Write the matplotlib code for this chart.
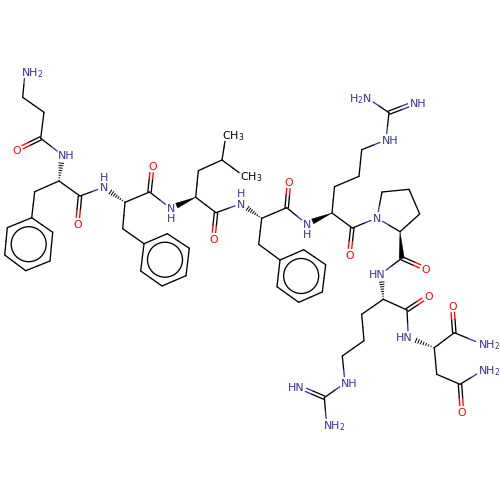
import numpy as np
import matplotlib
matplotlib.use("Agg")
import matplotlib.pyplot as plt
from matplotlib.patches import Polygon, Circle

BLUE = "#333399"
RED = "#FF0000"
BLACK = "#000000"

# atom id, x, y (pixel space)
atom_ids = ["n1","c1","c2","c3","o3","n2","a2","b2","r1a","r1b","r1c","r1d","r1e","r1f",
            "c4","o4","n3","a3","b3","r2a","r2b","r2c","r2d","r2e","r2f",
            "c5","o5","n4","a4","b4","g4","m1","m2","c6","o6","n5","a5","b5",
            "r3a","r3b","r3c","r3d","r3e","r3f","c7","o7","n6","a6","b6","d6","e6",
            "n7","g7","n8","n9","c8","o8","n10","p1","p2","p3","p4","c9","o9",
            "n11","a11","c10","o10","b11","d11","e11","n12","g12","n13","n14",
            "n15","a15","c16","o16","n16","b15","c17","o17","n17"]
atom_x = [25,22.7,44,40.7,16.7,62.3,59,34.7,31.7,52.7,50,25.7,4.7,7.3,
          80,77.3,103.7,125,122.7,144,167.3,189.3,186,162,140.7,
          149.5,152.3,170.7,195.7,198.3,222,226,244.3,216,213.3,241,261.7,258.7,
          280,303.7,325.7,322.3,298.7,277,286.7,289,306.7,332,334.5,359,361.7,
          386,389,414.3,367.7,352.3,349.3,377,382,409,419.7,400,401.7,426,
          381,383.3,407,428.3,361.7,364,342.3,345,324.3,300,326.7,
          408.3,434.3,454.3,452.3,481.7,436.7,460,462,482.3]
atom_y = [72,97.3,112.3,138.3,150,155,181,191.7,217.7,232.3,261,270.7,255,227.7,
          196,224,187.3,202.3,228.7,243.7,233.7,248.3,275.7,286,271,
          192,166.2,208.3,197.3,170.7,160,135,176.5,212.7,239,203.7,218.3,244.3,
          260,249.7,264.7,292,302.3,286.7,207.7,182,224,213,186.7,176.3,149.7,
          140,112.7,103,98.3,228,255,218,192,189.3,214,231.7,258.3,269,
          274,299.3,310,296,314.3,340.7,356,383,397.7,387.3,425,
          337.3,347.7,332.7,306,344,374.3,384.3,412,370.7]

single_bonds = [("n1","c1"),("c1","c2"),("c2","c3"),("c3","n2"),("a2","b2"),("b2","r1a"),
                ("r1a","r1b"),("r1b","r1c"),("r1c","r1d"),("r1d","r1e"),("r1e","r1f"),("r1f","r1a"),
                ("a2","c4"),("c4","n3"),("a3","b3"),("b3","r2a"),
                ("r2a","r2b"),("r2b","r2c"),("r2c","r2d"),("r2d","r2e"),("r2e","r2f"),("r2f","r2a"),
                ("a3","c5"),("c5","n4"),("a4","b4"),("b4","g4"),("g4","m1"),("g4","m2"),
                ("a4","c6"),("c6","n5"),("a5","b5"),("b5","r3a"),
                ("r3a","r3b"),("r3b","r3c"),("r3c","r3d"),("r3d","r3e"),("r3e","r3f"),("r3f","r3a"),
                ("a5","c7"),("c7","n6"),("a6","b6"),("b6","d6"),("d6","e6"),("e6","n7"),("n7","g7"),
                ("g7","n9"),("a6","c8"),("c8","n10"),("n10","p1"),("p1","p2"),("p2","p3"),("p3","p4"),
                ("p4","n10"),("c9","n11"),("a11","c10"),("a11","b11"),("b11","d11"),("d11","e11"),
                ("e11","n12"),("n12","g12"),("g12","n14"),("c10","n15"),("a15","c16"),("c16","n16"),
                ("a15","b15"),("b15","c17"),("c17","n17")]
double_bonds = [("c3","o3"),("c4","o4"),("c5","o5"),("c6","o6"),("c7","o7"),("c8","o8"),
                ("c9","o9"),("c10","o10"),("c16","o16"),("c17","o17"),("g7","n8"),("g12","n13")]
wedge_bonds = [("a4","n4"),("a6","n6"),("p4","c9")]
hash_bonds = [("a2","n2"),("a3","n3"),("a5","n5"),("a11","n11"),("a15","n15")]
ring_centres = [("r1a","r1d"),("r2a","r2d"),("r3a","r3d")]

# atom id, text, side of the label that starts at the atom
labels_right = [("n1","NH$_2$"),("n2","NH"),("n7","NH"),("n8","NH"),("n12","NH"),
                ("n14","NH$_2$"),("n16","NH$_2$"),("n17","NH$_2$"),("m1","CH$_3$"),("m2","CH$_3$")]
labels_left = [("n9","H$_2$N"),("n11","HN"),("n13","HN"),("n15","HN")]
labels_solo = [("n3","N"),("n4","N"),("n5","N"),("n6","N"),("n10","N"),
               ("o3","O"),("o4","O"),("o5","O"),("o6","O"),("o7","O"),("o8","O"),
               ("o9","O"),("o10","O"),("o16","O"),("o17","O")]
h_above = ["n3","n5"]
h_below = ["n4","n6"]

pos = {k: np.array([x, y], float) for k, x, y in zip(atom_ids, atom_x, atom_y)}
labelled = {k for k, _ in labels_right + labels_left + labels_solo}
FS = 7.9
LW = 0.95
GAP = 6.5


def colour(a):
    if a.startswith("o"):
        return RED
    if a.startswith("n"):
        return BLUE
    return BLACK


def ends(a, b):
    p, q = pos[a].copy(), pos[b].copy()
    u = (q - p) / np.linalg.norm(q - p)
    mid = (p + q) / 2
    if a in labelled:
        p = p + u * GAP
    if b in labelled:
        q = q - u * GAP
    return p, mid, q, u


def half_line(ax, a, b, off=0.0):
    p, mid, q, u = ends(a, b)
    n = np.array([-u[1], u[0]]) * off
    ax.plot([p[0]+n[0], mid[0]+n[0]], [p[1]+n[1], mid[1]+n[1]], color=colour(a), lw=LW,
            solid_capstyle="round")
    ax.plot([mid[0]+n[0], q[0]+n[0]], [mid[1]+n[1], q[1]+n[1]], color=colour(b), lw=LW,
            solid_capstyle="round")


fig = plt.figure(figsize=(5, 5), dpi=100)
ax = fig.add_axes([0, 0, 1, 1])
ax.set_xlim(0, 500)
ax.set_ylim(500, 0)
ax.axis("off")

for a, b in single_bonds:
    half_line(ax, a, b)
for a, b in double_bonds:
    half_line(ax, a, b, 1.7)
    half_line(ax, a, b, -1.7)

for a, b in wedge_bonds:
    p, _, q, u = ends(a, b)
    n = np.array([-u[1], u[0]]) * 2.6
    ax.add_patch(Polygon([p, q + n, q - n], closed=True, fc=BLACK, ec=BLACK, lw=0.3))

for a, b in hash_bonds:
    p, _, q, u = ends(a, b)
    L = np.linalg.norm(q - p)
    for t in np.arange(0.04, 1.0, 0.125):
        c = p + u * L * t
        n = np.array([-u[1], u[0]]) * (0.3 + 2.7 * t)
        ax.plot([c[0]-n[0], c[0]+n[0]], [c[1]-n[1], c[1]+n[1]], color=BLACK, lw=0.7,
                solid_capstyle="butt")

for a, b in ring_centres:
    c = (pos[a] + pos[b]) / 2
    ax.add_patch(Circle(c, 17.5, fill=False, ec=BLACK, lw=LW))

CAP = 4.0
HW = 4.1
for k, t in labels_right:
    ax.text(pos[k][0] - HW, pos[k][1] + CAP, t, color=BLACK if k.startswith("m") else BLUE,
            fontsize=FS, ha="left", va="baseline")
for k, t in labels_left:
    ax.text(pos[k][0] + HW, pos[k][1] + CAP, t, color=BLUE, fontsize=FS, ha="right", va="baseline")
for k, t in labels_solo:
    ax.text(pos[k][0], pos[k][1] + CAP, t, color=colour(k), fontsize=FS, ha="center", va="baseline")
for k in h_above:
    ax.text(pos[k][0], pos[k][1] - 10.4 + CAP, "H", color=BLUE, fontsize=FS, ha="center", va="baseline")
for k in h_below:
    ax.text(pos[k][0], pos[k][1] + 10.2 + CAP, "H", color=BLUE, fontsize=FS, ha="center", va="baseline")

fig.savefig("out.png", dpi=100, facecolor="white")
